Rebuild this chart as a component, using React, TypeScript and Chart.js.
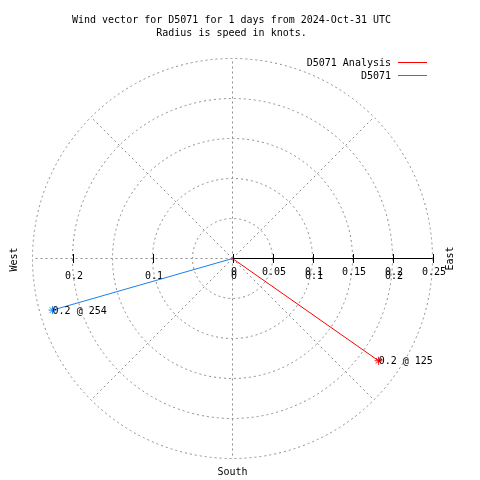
import React, { useEffect, useRef } from "react";
import { Chart, registerables } from "chart.js";

Chart.register(...registerables);

// ---- Data ----
const seriesNames = ["D5071 Analysis", "D5071"];
const seriesColors = ["#ff0000", "#1a80e6"];
const speeds = [0.223, 0.234]; // knots
const directions = [125, 254]; // degrees, clockwise from north
const pointLabels = ["0.2 @ 125", "0.2 @ 254"];

const gridRadii = [0.05, 0.1, 0.15, 0.2, 0.25];
const radialAngles = [0, 45, 90, 135, 180, 225, 270, 315];
const axisTicks = [0, 0.05, 0.1, 0.15, 0.2, 0.25];
const axisTickLabels = ["0", "0.05", "0.1", "0.15", "0.2", "0.25"];
const mirrorTicks = [-0.2, -0.1, 0, 0.1, 0.2];
const mirrorTickLabels = ["0.2", "0.1", "0", "0.1", "0.2"];

const titleLines = [
  "Wind vector for D5071 for 1 days from 2024-Oct-31 UTC",
  "Radius is speed in knots.",
];
const compassLabels = { west: "West", east: "East", south: "South" };

const FONT = '10px "DejaVu Sans Mono", "Liberation Mono", monospace';

const polarPlugin = {
  id: "polarDecor",
  beforeDatasetsDraw(chart: any) {
    const ctx = chart.ctx as CanvasRenderingContext2D;
    const xs = chart.scales.x;
    const ys = chart.scales.y;
    const cx = xs.getPixelForValue(0);
    const cy = ys.getPixelForValue(0);
    const rmax = gridRadii[gridRadii.length - 1];
    ctx.save();
    // grid circles
    ctx.strokeStyle = "#8c8c8c";
    ctx.lineWidth = 1;
    ctx.setLineDash([2, 3]);
    gridRadii.forEach((r) => {
      const rx = xs.getPixelForValue(r) - cx;
      const ry = cy - ys.getPixelForValue(r);
      ctx.beginPath();
      ctx.ellipse(cx, cy, rx, ry, 0, 0, Math.PI * 2);
      ctx.stroke();
    });
    // radial lines
    radialAngles.forEach((a) => {
      const t = (a * Math.PI) / 180;
      ctx.beginPath();
      ctx.moveTo(cx, cy);
      ctx.lineTo(
        xs.getPixelForValue(rmax * Math.cos(t)),
        ys.getPixelForValue(rmax * Math.sin(t))
      );
      ctx.stroke();
    });
    ctx.setLineDash([]);
    // radial axis
    ctx.strokeStyle = "#000000";
    ctx.beginPath();
    ctx.moveTo(cx, cy);
    ctx.lineTo(xs.getPixelForValue(rmax), cy);
    ctx.stroke();
    const tickSet = Array.from(new Set([...axisTicks, ...mirrorTicks]));
    tickSet.forEach((v) => {
      const x = Math.round(xs.getPixelForValue(v)) + 0.5;
      ctx.beginPath();
      ctx.moveTo(x, cy - 4.5);
      ctx.lineTo(x, cy + 4.5);
      ctx.stroke();
    });
    // tick labels
    ctx.fillStyle = "#000000";
    ctx.font = FONT;
    ctx.textAlign = "center";
    ctx.textBaseline = "middle";
    axisTicks.forEach((v, i) => {
      ctx.fillText(axisTickLabels[i], xs.getPixelForValue(v) + 1.5, cy + 14);
    });
    mirrorTicks.forEach((v, i) => {
      ctx.fillText(mirrorTickLabels[i], xs.getPixelForValue(v) + 1.5, cy + 18);
    });
    // compass labels
    const left = xs.getPixelForValue(-rmax);
    const right = xs.getPixelForValue(rmax);
    const bottom = ys.getPixelForValue(-rmax);
    ctx.fillText(compassLabels.south, cx, bottom + 14);
    ctx.save();
    ctx.translate(left - 18, cy + 1);
    ctx.rotate(-Math.PI / 2);
    ctx.fillText(compassLabels.west, 0, 0);
    ctx.restore();
    ctx.save();
    ctx.translate(right + 18, cy);
    ctx.rotate(-Math.PI / 2);
    ctx.fillText(compassLabels.east, 0, 0);
    ctx.restore();
    // title
    titleLines.forEach((line, i) => {
      ctx.fillText(line, 231.5, 20 + i * 13);
    });
    // legend
    ctx.textAlign = "right";
    seriesNames.forEach((name, i) => {
      const row = 62 + i * 13;
      ctx.fillStyle = "#000000";
      ctx.fillText(name, 391, row + 1.5);
      ctx.fillStyle = seriesColors[i];
      ctx.fillRect(398, row, 29, 1);
    });
    ctx.restore();
  },
  afterDatasetsDraw(chart: any) {
    const ctx = chart.ctx as CanvasRenderingContext2D;
    ctx.save();
    ctx.fillStyle = "#000000";
    ctx.font = FONT;
    ctx.textAlign = "left";
    ctx.textBaseline = "middle";
    chart.data.datasets.forEach((_: any, i: number) => {
      const meta = chart.getDatasetMeta(i);
      const el = meta.data[1];
      if (el) ctx.fillText(pointLabels[i], el.x, el.y + 1);
    });
    ctx.restore();
  },
};

export default function App() {
  const ref = useRef<HTMLCanvasElement>(null);
  useEffect(() => {
    if (!ref.current) return;
    const datasets = seriesNames.map((name, i) => {
      const t = (directions[i] * Math.PI) / 180;
      return {
        label: name,
        data: [
          { x: 0, y: 0 },
          { x: speeds[i] * Math.sin(t), y: speeds[i] * Math.cos(t) },
        ],
        showLine: true,
        borderColor: seriesColors[i],
        backgroundColor: seriesColors[i],
        borderWidth: 1,
        pointStyle: "star",
        pointRadius: [0, 4],
        pointBorderWidth: 1,
        pointBorderColor: seriesColors[i],
        clip: false,
      };
    });
    const chart = new Chart(ref.current, {
      type: "scatter",
      data: { datasets: datasets as any },
      options: {
        animation: false,
        responsive: false,
        devicePixelRatio: 1,
        layout: { padding: { left: 32.5, right: 47.5, top: 58.5, bottom: 21.5 } },
        scales: {
          x: { type: "linear", min: -0.25, max: 0.25, display: false },
          y: { type: "linear", min: -0.25, max: 0.25, display: false },
        },
        plugins: {
          legend: { display: false },
          title: { display: false },
          tooltip: { enabled: false },
        },
      },
      plugins: [polarPlugin],
    });
    return () => chart.destroy();
  }, []);
  return (
    <div style={{ position: "fixed", left: 0, top: 0, width: 480, height: 480, background: "#ffffff" }}>
      <canvas ref={ref} width={480} height={480} style={{ display: "block" }} />
    </div>
  );
}
